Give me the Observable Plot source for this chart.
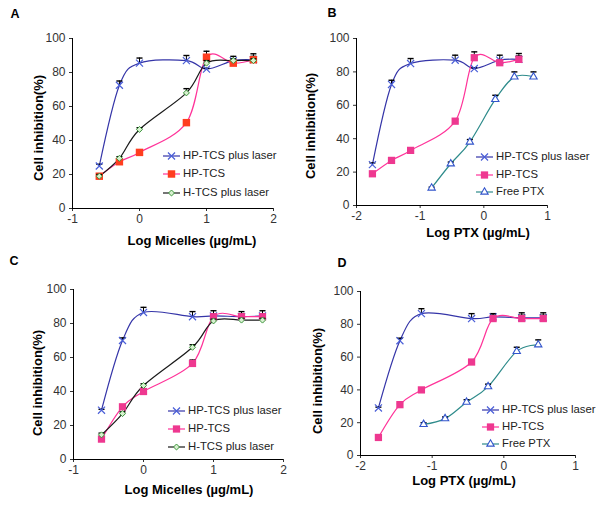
<!DOCTYPE html>
<html><head><meta charset="utf-8">
<script src="https://cdn.jsdelivr.net/npm/d3@7"></script>
<script src="https://cdn.jsdelivr.net/npm/@observablehq/plot@0.6"></script>
<style>
body{margin:0;background:#fff;font-family:"Liberation Sans",Arial,sans-serif;}
#fig{position:relative;width:601px;height:508px;overflow:hidden;background:#fff}
.abs{position:absolute;line-height:1}
.letter{font-weight:bold;font-size:12.5px;color:#000;transform:translate(-50%,-50%)}
.xt{font-weight:bold;font-size:13px;color:#000;white-space:nowrap;transform:translate(-50%,-50%)}
.yt{font-weight:bold;font-size:13px;color:#000;white-space:nowrap;transform:translate(-50%,-50%) rotate(-90deg)}
.leg{font-size:11.3px;color:#222;white-space:nowrap;display:flex;align-items:center;transform:translateY(-50%)}
.leg svg{display:block;margin-right:2px}
</style>
</head><body><div id="fig"></div><script>
// ---------- data ----------
const xMicelles = [-0.6, -0.3, 0, 0.7, 1.0, 1.4, 1.7];
const xPTX = [-1.75, -1.45, -1.15, -0.45, -0.15, 0.25, 0.55];
const xFreeB = [-0.82, -0.52, -0.22, 0.18, 0.48, 0.78];
const xFreeD = [-1.12, -0.82, -0.52, -0.22, 0.18, 0.48];

const aLaser = [25, 72.5, 85.5, 87, 82, 87, 87.5];
const aLaserErr = [1, 2.5, 3, 3, 0.5, 2.5, 3.5];
const aHP = [19, 27.5, 33, 50.5, 89, 85.5, 87.5];
const aHPErr = [1, 1, 1, 1, 3.5, 1.5, 2];
const aH = [19, 29.5, 46.5, 68, 85.5, 87, 87];
const aHErr = [1, 1, 1, 2.5, 1.5, 1, 1];

const bLaser = [24.5, 72.5, 85, 87, 82, 87, 87.5];
const bLaserErr = [1, 2.5, 3, 3, 0.5, 3, 3.5];
const bHP = [19, 27, 33, 50.5, 88.5, 85.5, 87.5];
const bHPErr = [1, 1, 1, 1, 3.5, 1.5, 2];
const bFree = [10.5, 25, 38, 63.5, 77, 77];
const bFreeErr = [0.5, 1, 1.5, 2.5, 3, 3];

const cLaser = [29, 70, 86.5, 84, 84.5, 84, 84.5];
const cLaserErr = [0.5, 1.5, 3, 3, 3, 3, 3];
const cHP = [12, 31, 40, 56.5, 84, 84, 84];
const cHPErr = [1, 1, 1, 2, 1.5, 1.5, 1.5];
const cH = [14.5, 27, 43.5, 66, 81.5, 82, 82];
const cHErr = [1, 1, 1, 1.5, 1, 1, 1];

const dLaser = [29, 70, 86.5, 83.5, 84.5, 84, 84];
const dLaserErr = [0.5, 1.5, 3, 3, 2, 3, 3];
const dHP = [11, 31, 40, 57, 83.5, 83.5, 83.5];
const dHPErr = [0.5, 0.5, 0.5, 1, 2, 2, 2];
const dFree = [19, 22.5, 32.5, 42, 63.5, 67.5];
const dFreeErr = [1, 1, 1.5, 1.5, 2.5, 3];

const yTicks = [0, 20, 40, 60, 80, 100];
const xTicks = [-1, 0, 1, 2];
const xTicksPTX = [-2, -1, 0, 1];
const names = ["HP-TCS plus laser", "HP-TCS", "H-TCS plus laser", "Free PTX"];

// ---------- styles ----------
const S = {
  laser: {symbol: "times", r: 3.3, stroke: "#4a5fd8", fill: "none", line: "#3535a8", sw: 1.2},
  hpRed: {symbol: "square", r: 4.2, stroke: "none", fill: "#ff3d1f", line: "#ff3399"},
  hpPink: {symbol: "square", r: 4.1, stroke: "none", fill: "#ee3890", line: "#ff3399"},
  h: {symbol: "diamond2", r: 2.7, stroke: "#3c963c", fill: "#d8f0d0", line: "#1a1a1a", sw: 1},
  free: {symbol: "triangle2", r: 3.5, stroke: "#3355cc", fill: "#ffffff", line: "#2e8b8b", sw: 1.1}
};
const d3sym = {times: d3.symbolTimes, square: d3.symbolSquare, diamond2: d3.symbolDiamond2, triangle2: d3.symbolTriangle2};
const capSymbol = {draw(ctx, size) { const w = Math.sqrt(size) / 2; ctx.moveTo(-w, 0); ctx.lineTo(w, 0); }};
const curve = d3.curveCardinal.tension(0);

function rows(xs, ys, es) { return xs.map((x, i) => ({x, y: ys[i], err: es[i]})); }

const panels = [
  {left: 0, top: 0, w: 300, h: 250, dom: [-1, 2], ticks: xTicks, mL: 72, mR: 27, mT: 38, mB: 42,
   letter: "A", lp: [15, 14], xt: "Log Micelles (µg/mL)", xp: [192, 240], yp: [38, 128],
   leg: {x: 163, ys: [155.5, 174, 192.5]},
   series: [
     {name: names[0], st: S.laser, d: rows(xMicelles, aLaser, aLaserErr)},
     {name: names[1], st: S.hpRed, d: rows(xMicelles, aHP, aHPErr)},
     {name: names[2], st: S.h, d: rows(xMicelles, aH, aHErr)}]},
  {left: 300, top: 0, w: 301, h: 250, dom: [-2, 1], ticks: xTicksPTX, mL: 56, mR: 54, mT: 38, mB: 45,
   letter: "B", lp: [32, 13], xt: "Log PTX (µg/mL)", xp: [178, 232], yp: [10, 126],
   leg: {x: 176, ys: [157, 174.5, 192]},
   series: [
     {name: names[0], st: S.laser, d: rows(xPTX, bLaser, bLaserErr)},
     {name: names[1], st: S.hpPink, d: rows(xPTX, bHP, bHPErr)},
     {name: names[3], st: S.free, d: rows(xFreeB, bFree, bFreeErr)}]},
  {left: 0, top: 250, w: 300, h: 258, dom: [-1, 2], ticks: xTicks, mL: 73, mR: 17, mT: 39, mB: 49,
   letter: "C", lp: [14, 11], xt: "Log Micelles (µg/mL)", xp: [189, 239], yp: [37, 133],
   leg: {x: 168, ys: [161, 179, 196.5]},
   series: [
     {name: names[0], st: S.laser, d: rows(xMicelles, cLaser, cLaserErr)},
     {name: names[1], st: S.hpPink, d: rows(xMicelles, cHP, cHPErr)},
     {name: names[2], st: S.h, d: rows(xMicelles, cH, cHErr)}]},
  {left: 300, top: 250, w: 301, h: 258, dom: [-2, 1], ticks: xTicksPTX, mL: 60, mR: 26, mT: 41, mB: 53,
   letter: "D", lp: [42, 13], xt: "Log PTX (µg/mL)", xp: [164, 230], yp: [17, 131],
   leg: {x: 182, ys: [160, 177, 194]},
   series: [
     {name: names[0], st: S.laser, d: rows(xPTX, dLaser, dLaserErr)},
     {name: names[1], st: S.hpPink, d: rows(xPTX, dHP, dHPErr)},
     {name: names[3], st: S.free, d: rows(xFreeD, dFree, dFreeErr)}]}
];

const fig = document.getElementById("fig");

for (const p of panels) {
  const box = document.createElement("div");
  box.className = "abs";
  Object.assign(box.style, {left: p.left + "px", top: p.top + "px", width: p.w + "px", height: p.h + "px"});
  fig.appendChild(box);

  const marks = [];
  for (const s of p.series) {
    marks.push(Plot.line(s.d, {x: "x", y: "y", stroke: s.st.line, strokeWidth: 1.2, curve}));
  }
  for (const s of p.series) {
    marks.push(Plot.ruleX(s.d, {x: "x", y1: "y", y2: d => d.y + d.err, stroke: "#000", strokeWidth: 1}));
    marks.push(Plot.dot(s.d, {x: "x", y: d => d.y + d.err, symbol: capSymbol, r: 3.4, stroke: "#000", fill: "none", strokeWidth: 1.4}));
    marks.push(Plot.dot(s.d, {x: "x", y: "y", symbol: s.st.symbol, r: s.st.r, stroke: s.st.stroke, fill: s.st.fill, strokeWidth: s.st.sw || 1}));
  }
  const chart = Plot.plot({
    width: p.w, height: p.h,
    marginLeft: p.mL, marginRight: p.mR, marginTop: p.mT, marginBottom: p.mB,
    style: {fontFamily: "Liberation Sans, Arial, sans-serif", fontSize: "12px", color: "#333", background: "transparent", overflow: "visible"},
    x: {domain: p.dom},
    y: {domain: [0, 100]},
    marks: [
      Plot.axisX({ticks: p.ticks, tickSize: 3, tickPadding: 3, label: null, tickFormat: d => String(d)}),
      Plot.axisY({ticks: yTicks, tickSize: 3, tickPadding: 4, label: null, tickFormat: d => String(d)}),
      Plot.ruleY([0], {stroke: "#000"}),
      Plot.ruleX([p.dom[0]], {stroke: "#000"}),
      ...marks
    ]
  });
  chart.style.position = "absolute";
  chart.style.left = "0px"; chart.style.top = "0px";
  box.appendChild(chart);

  const mk = (cls, txt, x, y) => {
    const e = document.createElement("div");
    e.className = "abs " + cls; e.textContent = txt;
    e.style.left = x + "px"; e.style.top = y + "px";
    box.appendChild(e);
  };
  mk("letter", p.letter, p.lp[0], p.lp[1]);
  mk("xt", p.xt, p.xp[0], p.xp[1]);
  mk("yt", "Cell inhibition(%)", p.yp[0], p.yp[1]);

  p.series.forEach((s, i) => {
    const row = document.createElement("div");
    row.className = "abs leg";
    row.style.left = p.leg.x + "px"; row.style.top = p.leg.ys[i] + "px";
    const svg = d3.create("svg").attr("width", 18).attr("height", 12);
    svg.append("line").attr("x1", 0).attr("x2", 17).attr("y1", 6).attr("y2", 6)
      .attr("stroke", s.st.line).attr("stroke-width", 1.2);
    svg.append("path").attr("transform", "translate(8.5,6)")
      .attr("d", d3.symbol(d3sym[s.st.symbol], Math.PI * s.st.r * s.st.r)())
      .attr("fill", s.st.fill).attr("stroke", s.st.stroke).attr("stroke-width", s.st.sw || 1);
    row.appendChild(svg.node());
    const t = document.createElement("span"); t.textContent = s.name;
    row.appendChild(t);
    box.appendChild(row);
  });
}
</script></body></html>
